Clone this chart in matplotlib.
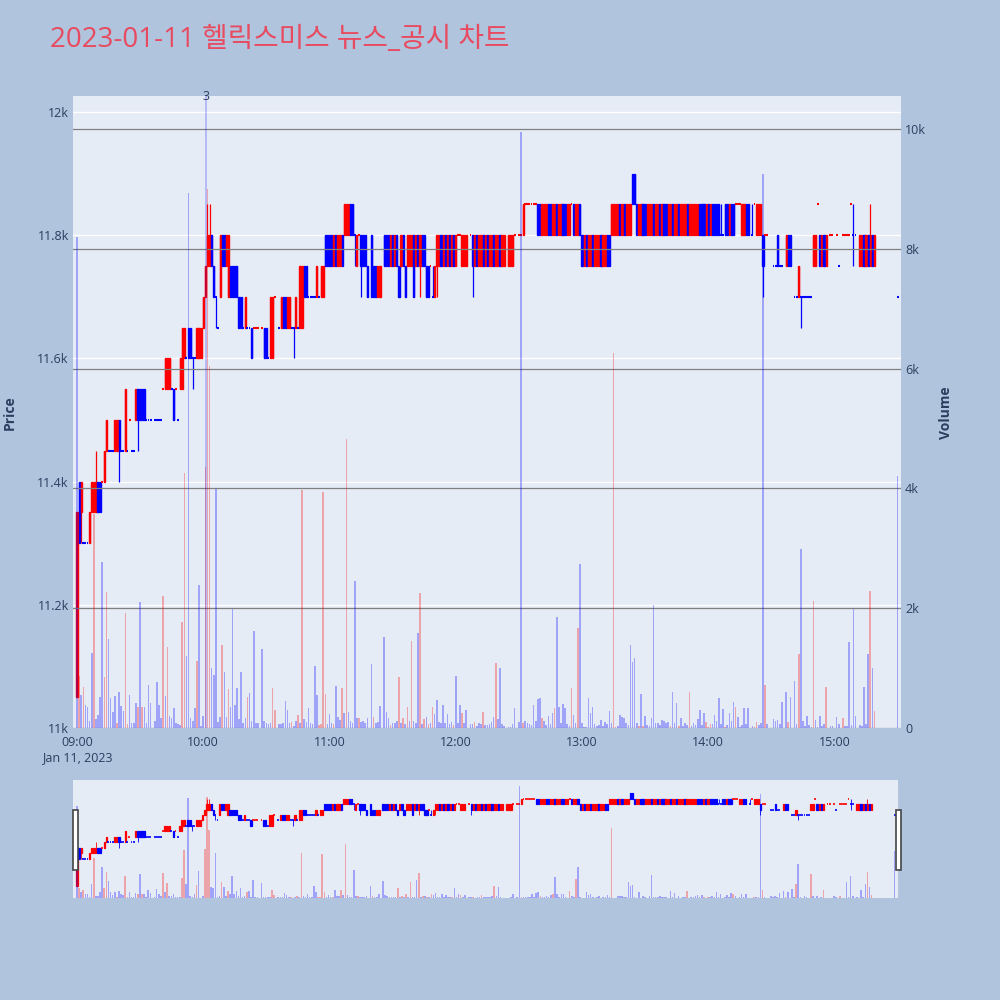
import numpy as np
import matplotlib
matplotlib.use("Agg")
import matplotlib.pyplot as plt
from matplotlib.patches import Rectangle

plt.rcParams["font.family"] = ["Open Sans", "Noto Sans CJK KR", "DejaVu Sans"]

title = "2023-01-11 헬릭스미스 뉴스_공시 차트"
hour_minutes = [0, 60, 120, 180, 240, 300, 360]
hour_labels = ["09:00\nJan 11, 2023", "10:00", "11:00", "12:00", "13:00", "14:00", "15:00"]
price_ticks = [11000, 11200, 11400, 11600, 11800, 12000]
price_labels = ["11k", "11.2k", "11.4k", "11.6k", "11.8k", "12k"]
vol_ticks = [0, 2000, 4000, 6000, 8000, 10000]
vol_labels = ["0", "2k", "4k", "6k", "8k", "10k"]
news_minute = 61.4
news_count = "3"

# 1분봉, 인덱스 0 = 09:00, None = 체결 없음
N = None
open_px = [
    11050, 11400, 11350, 11300, 11300, 11300, 11300, 11350, 11350, 11350,
    11400, 11400, 11400, 11400, 11450, 11450, 11450, 11450, 11450, 11450,
    11500, 11450, 11450, 11450, 11450, 11500, 11450, 11450, 11500, 11550,
    11550, 11550, 11550, 11500, 11500, 11500, N, 11500, 11500, 11500,
    11500, 11550, 11550, 11550, 11550, 11550, 11550, 11550, 11500, 11550,
    11550, 11600, 11600, 11650, 11650, 11600, 11600, 11600, 11600, 11600,
    11650, 11700, 11750, 11750, 11800, 11750, 11700, 11650, 11700, 11800,
    11800, 11750, 11700, 11750, 11750, 11750, 11750, 11700, 11700, 11650,
    11650, 11650, 11650, 11650, 11650, 11650, 11650, N, 11650, 11650,
    11650, 11600, 11600, 11600, 11700, N, 11650, 11650, 11700, 11700,
    11650, 11650, 11650, 11650, 11650, 11650, 11650, 11650, 11750, 11750,
    11700, 11700, 11700, 11700, 11700, 11700, 11700, 11700, 11800, 11800,
    11800, 11800, 11750, 11800, 11750, 11750, 11800, 11800, 11800, 11800,
    11850, 11850, 11800, 11750, 11800, 11800, 11800, 11800, 11750, N,
    11800, 11750, 11750, 11700, 11700, N, 11800, 11800, 11800, 11750,
    11800, 11750, 11800, 11750, 11750, 11800, 11750, 11750, 11750, 11750,
    11800, 11750, 11800, 11750, 11800, 11800, 11750, 11750, 11750, 11700,
    11700, 11750, 11750, 11800, 11750, 11800, 11750, 11800, 11750, 11800,
    11750, 11800, 11800, 11750, 11750, 11750, N, 11800, 11800, 11750,
    11800, 11750, 11750, 11800, 11750, 11800, 11750, 11750, 11800, 11750,
    11750, 11800, 11750, 11750, N, 11750, 11750, 11750, 11800, N,
    11800, 11800, 11800, 11850, 11850, 11850, 11850, 11850, 11850, 11850,
    11850, 11800, 11800, 11800, 11850, 11850, 11800, 11800, 11850, 11800,
    11800, 11850, 11850, 11800, 11800, 11850, 11850, 11800, 11800, 11850,
    11800, 11750, 11800, 11750, 11750, 11800, 11750, 11750, 11750, 11800,
    11750, 11750, 11800, 11800, 11800, 11800, 11800, 11800, 11850, 11800,
    11850, 11800, 11800, 11800, 11900, 11900, 11850, 11800, 11800, 11850,
    11850, 11800, 11800, 11800, 11850, 11800, 11800, 11850, 11800, 11850,
    11850, 11800, 11800, 11850, 11800, 11800, 11850, 11800, 11800, 11800,
    11850, 11800, 11800, 11800, 11800, 11800, 11850, 11850, 11850, 11800,
    11850, 11800, 11850, 11850, 11850, 11850, 11800, 11800, 11850, 11850,
    11800, 11850, 11850, 11850, 11850, 11850, 11800, 11800, 11850, 11850,
    N, 11800, 11850, 11800, 11800, 11800, 11800, 11800, 11800, N,
    N, 11750, 11750, 11800, 11750, 11750, N, 11750, 11800, 11800,
    N, 11700, 11700, 11700, 11700, 11700, 11700, 11700, 11700, 11700,
    11750, 11750, 11850, 11800, 11750, 11800, 11750, N, 11800, 11800,
    N, 11800, 11750, N, 11800, 11800, 11800, 11800, 11850, 11800,
    11800, N, 11750, 11750, 11800, 11750, 11800, 11750, 11800, 11750,
    N, N, N, N, N, N, N, N, N, N,
    11700,
]
close_px = [
    11350, 11300, 11400, 11300, 11300, 11300, 11350, 11400, 11400, 11400,
    11350, 11350, 11400, 11450, 11500, 11450, 11450, 11450, 11500, 11500,
    11450, 11450, 11450, 11550, 11450, 11500, 11450, 11450, 11550, 11500,
    11500, 11500, 11500, 11500, 11500, 11500, N, 11500, 11500, 11500,
    11500, 11550, 11600, 11600, 11600, 11550, 11500, 11550, 11500, 11600,
    11650, 11650, 11600, 11600, 11600, 11600, 11600, 11650, 11650, 11650,
    11700, 11750, 11800, 11800, 11750, 11700, 11700, 11650, 11800, 11750,
    11750, 11800, 11800, 11700, 11700, 11700, 11700, 11650, 11650, 11650,
    11700, 11650, 11650, 11600, 11650, 11650, 11650, N, 11650, 11600,
    11600, 11600, 11700, 11700, 11700, N, 11650, 11700, 11650, 11650,
    11700, 11700, 11650, 11650, 11700, 11650, 11750, 11750, 11700, 11700,
    11700, 11700, 11700, 11700, 11750, 11700, 11750, 11750, 11750, 11750,
    11750, 11750, 11800, 11750, 11800, 11800, 11750, 11850, 11850, 11850,
    11800, 11800, 11800, 11800, 11800, 11750, 11750, 11750, 11700, N,
    11700, 11700, 11700, 11750, 11750, N, 11750, 11750, 11750, 11800,
    11750, 11800, 11750, 11700, 11800, 11750, 11700, 11800, 11800, 11800,
    11700, 11800, 11750, 11800, 11750, 11750, 11700, 11700, 11750, 11700,
    11750, 11800, 11800, 11750, 11800, 11750, 11800, 11750, 11800, 11750,
    11800, 11800, 11800, 11800, 11800, 11800, N, 11800, 11750, 11800,
    11750, 11800, 11800, 11750, 11800, 11750, 11800, 11800, 11750, 11800,
    11800, 11750, 11800, 11800, N, 11800, 11800, 11800, 11800, N,
    11800, 11800, 11850, 11850, 11850, 11850, 11850, 11850, 11850, 11800,
    11800, 11850, 11850, 11850, 11800, 11800, 11850, 11850, 11800, 11850,
    11850, 11800, 11800, 11850, 11850, 11850, 11800, 11850, 11850, 11800,
    11750, 11800, 11750, 11800, 11800, 11750, 11800, 11800, 11800, 11750,
    11800, 11800, 11750, 11750, 11850, 11850, 11850, 11850, 11800, 11850,
    11800, 11850, 11850, 11850, 11850, 11850, 11800, 11850, 11850, 11800,
    11800, 11850, 11850, 11850, 11800, 11850, 11850, 11800, 11850, 11800,
    11800, 11850, 11850, 11800, 11850, 11850, 11800, 11850, 11850, 11850,
    11800, 11850, 11850, 11850, 11850, 11850, 11800, 11800, 11800, 11850,
    11800, 11850, 11800, 11800, 11800, 11800, 11800, 11800, 11800, 11800,
    11850, 11800, 11800, 11850, 11850, 11850, 11850, 11850, 11800, 11800,
    N, 11800, 11850, 11850, 11850, 11850, 11750, 11800, 11800, N,
    N, 11750, 11750, 11750, 11750, 11750, N, 11800, 11750, 11750,
    N, 11700, 11700, 11750, 11700, 11700, 11700, 11700, 11700, 11700,
    11800, 11800, 11850, 11750, 11800, 11750, 11800, N, 11800, 11800,
    N, 11800, 11750, N, 11800, 11800, 11800, 11800, 11850, 11800,
    11800, N, 11800, 11800, 11750, 11800, 11750, 11800, 11750, 11800,
    N, N, N, N, N, N, N, N, N, N,
    11700,
]
# 몸통 밖으로 꼬리가 나간 봉
wick_minute = [2, 9, 20, 29, 55, 62, 63, 66, 103, 132, 135, 163, 169, 171,
               188, 306, 321, 326, 344, 369, 377]
wick_high = [11400, 11450, 11500, 11550, 11600, 11850, 11850, 11700, 11650, 11800,
             11800, 11800, 11750, 11800, 11800, 11850, 11850, 11800, 11700, 11850, 11850]
wick_low = [11300, 11350, 11400, 11450, 11550, 11750, 11750, 11650, 11600, 11750,
            11700, 11700, 11700, 11700, 11700, 11800, 11800, 11700, 11650, 11750, 11750]

volume = [
    8200, 860, 550, 690, 380, 356, 120, 1250, 3580, 150,
    217, 523, 2776, 846, 2275, 1485, 495, 273, 540, 78,
    606, 367, 289, 1925, 60, 545, 90, 80, 412, 345,
    2108, 345, 345, 89, 718, 412, 0, 120, 773, 384,
    161, 2208, 534, 1357, 206, 161, 328, 90, 60, 50,
    1764, 4250, 1202, 8930, 161, 120, 328, 1123, 2387, 33,
    206, 4361, 9000, 6040, 996, 885, 3984, 100, 189, 1385,
    940, 189, 646, 356, 1986, 384, 662, 150, 929, 78,
    161, 512, 590, 120, 1624, 90, 78, 0, 1318, 110,
    78, 60, 78, 673, 300, 0, 67, 70, 89, 451,
    300, 90, 106, 33, 120, 217, 78, 3972, 150, 100,
    328, 80, 61, 1041, 545, 50, 61, 3933, 567, 67,
    228, 90, 67, 707, 189, 134, 673, 245, 4818, 273,
    117, 89, 2453, 172, 161, 100, 117, 90, 172, 0,
    1068, 189, 78, 100, 373, 0, 1513, 273, 172, 50,
    89, 78, 117, 846, 78, 161, 67, 345, 117, 1452,
    117, 90, 1591, 2259, 61, 145, 189, 61, 78, 345,
    234, 467, 106, 80, 378, 90, 228, 70, 106, 50,
    874, 78, 384, 245, 90, 300, 0, 60, 67, 106,
    33, 80, 70, 262, 50, 50, 60, 106, 189, 1080,
    150, 996, 60, 39, 0, 10, 10, 60, 328, 0,
    95, 9950, 78, 117, 89, 60, 50, 384, 117, 484,
    495, 172, 122, 50, 206, 70, 245, 328, 1858, 356,
    80, 400, 339, 60, 39, 662, 217, 89, 1664, 2737,
    80, 11, 11, 495, 256, 356, 60, 39, 50, 134,
    39, 106, 60, 289, 78, 6264, 11, 40, 217, 178,
    161, 89, 50, 1385, 1107, 1163, 89, 33, 567, 33,
    200, 50, 39, 161, 2053, 89, 89, 50, 134, 122,
    78, 106, 39, 606, 78, 412, 33, 161, 39, 78,
    50, 596, 39, 78, 50, 145, 300, 50, 245, 106,
    11, 67, 60, 217, 117, 495, 60, 312, 11, 50,
    245, 117, 440, 356, 189, 11, 50, 339, 67, 328,
    0, 40, 11, 106, 50, 89, 9250, 720, 67, 0,
    0, 150, 122, 134, 67, 428, 0, 595, 106, 523,
    0, 784, 60, 1230, 2988, 117, 39, 206, 50, 22,
    2120, 134, 22, 206, 33, 60, 679, 0, 40, 40,
    0, 178, 60, 0, 160, 40, 40, 1440, 50, 1986,
    206, 0, 50, 39, 690, 61, 1230, 2290, 996, 289,
    0, 0, 0, 0, 0, 0, 0, 0, 0, 0,
    4211,
]
red_volume_minutes = [1, 3, 8, 13, 14, 19, 23, 24, 29, 31, 41, 43, 50, 51, 57, 61, 62, 63,
                      69, 72, 81, 93, 94, 102, 105, 107, 115, 116, 117, 118, 122, 126, 128,
                      134, 141, 149, 153, 155, 157, 159, 163, 165, 167, 169, 179, 183, 189,
                      193, 199, 212, 221, 227, 235, 238, 255, 256, 267, 269, 282, 286, 291,
                      299, 300, 301, 308, 313, 322, 323, 327, 338, 343, 350, 356, 364, 377, 379]

RED = "#FF0000"
BLUE = "#0000FF"
TXT = "#2a3f5f"
BG = "#B0C4DE"
PLOT_BG = "#E5ECF6"

n = len(open_px)
minutes = np.arange(n)
traded = [i for i in range(n) if open_px[i] is not None]
hi = {i: max(open_px[i], close_px[i]) for i in traded}
lo = {i: min(open_px[i], close_px[i]) for i in traded}
for m, h, l in zip(wick_minute, wick_high, wick_low):
    hi[m], lo[m] = h, l

# 시가=종가인 봉은 직전 종가와 비교해서 색을 정함 (plotly 방식)
is_up = {}
prev_c, prev_up = None, True
for i in traded:
    o, c = open_px[i], close_px[i]
    if c > o:
        d = True
    elif c < o:
        d = False
    elif prev_c is None or c == prev_c:
        d = prev_up
    else:
        d = c > prev_c
    is_up[i] = d
    prev_c, prev_up = c, d

red_set = set(red_volume_minutes)
vol_colors = [(1, 0, 0, 0.3) if i in red_set else (0, 0, 1, 0.3) for i in range(n)]


def draw_candles(ax, body_w, edge_w, wick_w, doji_w):
    xs = np.array(traded)
    cols = [RED if is_up[i] else BLUE for i in traded]
    ax.vlines(xs, [lo[i] for i in traded], [hi[i] for i in traded],
              colors=cols, lw=wick_w, zorder=3)
    body = [i for i in traded if open_px[i] != close_px[i]]
    bcols = [RED if is_up[i] else BLUE for i in body]
    ax.bar(body, [abs(close_px[i] - open_px[i]) for i in body],
           bottom=[min(open_px[i], close_px[i]) for i in body],
           width=body_w, color=bcols, edgecolor=bcols, lw=edge_w, zorder=3)
    doji = [i for i in traded if open_px[i] == close_px[i]]
    dcols = [RED if is_up[i] else BLUE for i in doji]
    ax.hlines([open_px[i] for i in doji], [i - 0.45 for i in doji], [i + 0.45 for i in doji],
              colors=dcols, lw=doji_w, zorder=3)


x_lo, x_hi = -1.9, 391.6

fig = plt.figure(figsize=(10, 10), dpi=100, facecolor=BG)

# 메인 차트
ax = fig.add_axes([0.073, 0.272, 0.828, 0.632])
ax.set_facecolor(PLOT_BG)
for s in ax.spines.values():
    s.set_visible(False)
ax.set_axisbelow(True)
ax.yaxis.grid(True, color="white", lw=1)
draw_candles(ax, 0.55, 1.0, 0.9, 1.5)
ax.set_xlim(x_lo, x_hi)
ax.set_ylim(11000, 12026)
ax.set_yticks(price_ticks)
ax.set_yticklabels(price_labels)
ax.set_xticks(hour_minutes)
ax.set_xticklabels(hour_labels)
ax.tick_params(axis="y", length=0, pad=3, labelsize=9, labelcolor=TXT)
ax.tick_params(axis="x", length=0, pad=6, labelsize=9, labelcolor=TXT)

ax2 = ax.twinx()
for s in ax2.spines.values():
    s.set_visible(False)
ax2.yaxis.grid(True, color="#808080", lw=0.9)
ax2.bar(minutes, volume, width=0.75, color=vol_colors, zorder=2)
ax2.set_ylim(0, 10550)
ax2.set_yticks(vol_ticks)
ax2.set_yticklabels(vol_labels)
ax2.tick_params(axis="y", length=0, pad=3, labelsize=9, labelcolor=TXT)
ax2.set_xlim(x_lo, x_hi)

# 뉴스 표시
ax2.axvline(news_minute, color=(0, 0, 1, 0.25), lw=1.2, zorder=4)
ax2.text(news_minute, 10550, news_count, ha="center", va="center",
         fontsize=9, color=TXT, zorder=5)

fig.text(0.05, 0.96, title, fontsize=20, color="#E84A5F", ha="left", va="center")
fig.text(0.010, 0.587, "Price", rotation=90, fontsize=10, fontweight="bold",
         color=TXT, ha="center", va="center")
fig.text(0.946, 0.587, "Volume", rotation=90, fontsize=10, fontweight="bold",
         color=TXT, ha="center", va="center")

# 레인지 슬라이더
axs = fig.add_axes([0.073, 0.102, 0.825, 0.118])
axs.set_facecolor(PLOT_BG)
for s in axs.spines.values():
    s.set_visible(False)
draw_candles(axs, 0.6, 0.9, 0.6, 1.2)
axs.set_xlim(x_lo, x_hi)
axs.set_ylim(10940, 12020)
axs.set_xticks([])
axs.set_yticks([])
axs2 = axs.twinx()
for s in axs2.spines.values():
    s.set_visible(False)
axs2.bar(minutes, volume, width=0.75, color=vol_colors)
axs2.set_ylim(0, 10500)
axs2.set_xlim(x_lo, x_hi)
axs2.set_yticks([])

for hx in (0.0733, 0.896):
    fig.add_artist(Rectangle((hx, 0.130), 0.0045, 0.060, transform=fig.transFigure,
                             facecolor="white", edgecolor="#444444", lw=1.2, zorder=10))

fig.savefig("out.png", dpi=100, facecolor=BG)
